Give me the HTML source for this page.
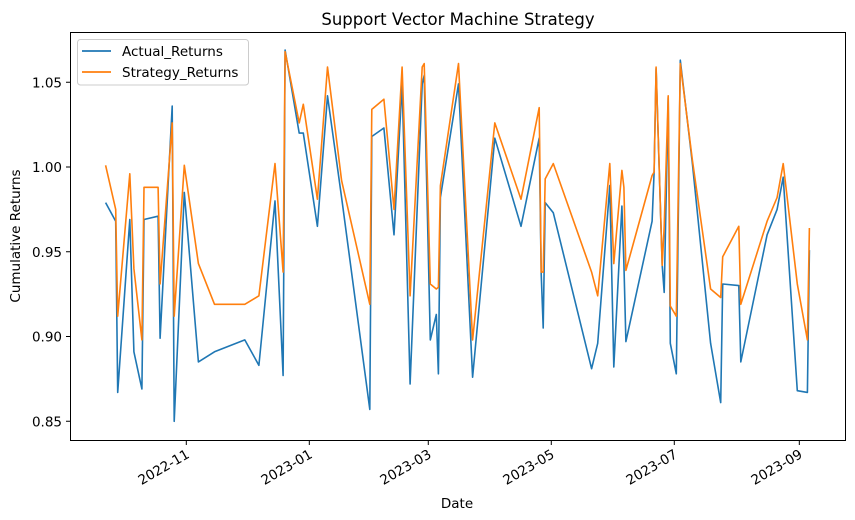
<!DOCTYPE html>
<html><head><meta charset="utf-8"><style>
html,body{margin:0;padding:0;background:#fff;}
svg{display:block;font-family:"DejaVu Sans","Liberation Sans",sans-serif;}
</style></head><body>
<svg id="chart" width="855" height="520" viewBox="0 0 855 520">
<text x="458" y="25" font-size="16.5" text-anchor="middle">Support Vector Machine Strategy</text>
<text x="457" y="508" font-size="13.5" text-anchor="middle">Date</text>
<text transform="translate(20,236) rotate(-90)" font-size="13.5" text-anchor="middle">Cumulative Returns</text>
<g id="axes"></g>
<g id="series"></g>
<rect x="70.5" y="32.5" width="775" height="408" fill="none" stroke="#000" stroke-width="1"/>
<g>
<rect x="77.5" y="39.5" width="171" height="45.5" rx="3" fill="#fff" fill-opacity="0.8" stroke="#ccc"/>
<line x1="82" y1="51" x2="111" y2="51" stroke="#1f77b4" stroke-width="1.8"/>
<text x="122" y="56" font-size="13.5">Actual_Returns</text>
<line x1="82" y1="72" x2="111" y2="72" stroke="#ff7f0e" stroke-width="1.8"/>
<text x="122" y="77" font-size="13.5">Strategy_Returns</text>
</g>
</svg>
<script>
const dates = ["2022-09-22","2022-09-27","2022-09-28","2022-10-04","2022-10-06","2022-10-10","2022-10-11","2022-10-18","2022-10-19","2022-10-25","2022-10-26","2022-10-31","2022-11-07","2022-11-15","2022-11-30","2022-12-07","2022-12-15","2022-12-19","2022-12-20","2022-12-27","2022-12-29","2023-01-05","2023-01-10","2023-01-17","2023-01-31","2023-02-01","2023-02-07","2023-02-12","2023-02-16","2023-02-20","2023-02-26","2023-02-27","2023-03-02","2023-03-05","2023-03-06","2023-03-07","2023-03-16","2023-03-23","2023-04-03","2023-04-16","2023-04-25","2023-04-26","2023-04-27","2023-04-28","2023-05-02","2023-05-21","2023-05-24","2023-05-30","2023-06-01","2023-06-05","2023-06-06","2023-06-07","2023-06-20","2023-06-21","2023-06-22","2023-06-25","2023-06-26","2023-06-28","2023-06-29","2023-07-02","2023-07-04","2023-07-10","2023-07-19","2023-07-24","2023-07-25","2023-08-02","2023-08-03","2023-08-16","2023-08-21","2023-08-24","2023-08-31","2023-09-05","2023-09-06"];
const actualReturns = [0.979,0.968,0.867,0.969,0.891,0.869,0.969,0.971,0.899,1.036,0.850,0.985,0.885,0.891,0.898,0.883,0.980,0.877,1.069,1.020,1.020,0.965,1.042,0.982,0.857,1.018,1.023,0.960,1.049,0.872,1.049,1.054,0.898,0.913,0.878,0.982,1.049,0.876,1.017,0.965,1.017,0.937,0.905,0.979,0.973,0.881,0.896,0.989,0.882,0.977,0.943,0.897,0.968,0.997,1.058,0.942,0.926,1.041,0.896,0.878,1.063,1.002,0.896,0.861,0.931,0.930,0.885,0.960,0.975,0.994,0.868,0.867,0.951];
const strategyReturns = [1.001,0.975,0.912,0.996,0.940,0.898,0.988,0.988,0.931,1.026,0.912,1.001,0.943,0.919,0.919,0.924,1.002,0.938,1.068,1.026,1.037,0.981,1.059,0.992,0.919,1.034,1.040,0.975,1.059,0.924,1.059,1.061,0.931,0.928,0.929,0.989,1.061,0.898,1.026,0.981,1.035,0.938,0.938,0.993,1.002,0.938,0.924,1.002,0.943,0.998,0.988,0.939,0.995,0.997,1.059,0.942,0.965,1.042,0.918,0.912,1.061,1.004,0.928,0.923,0.947,0.965,0.919,0.968,0.982,1.002,0.931,0.898,0.964];
const yTicks = [0.85,0.90,0.95,1.00,1.05];
const yTickLabels = ["0.85","0.90","0.95","1.00","1.05"];
const xTicks = ["2022-11-01","2023-01-01","2023-03-01","2023-05-01","2023-07-01","2023-09-01"];
const xTickLabels = ["2022-11","2023-01","2023-03","2023-05","2023-07","2023-09"];

const NS = "http://www.w3.org/2000/svg";
const X0 = Date.UTC(2022,10,1);
function xs(d){ const t = Date.parse(d+"T00:00:00Z"); return 186.3 + (t - X0)/86400000*2.0165; }
function ys(v){ return 167 - (v-1)*1695; }
const axes = document.getElementById("axes");
const series = document.getElementById("series");
function mk(tag, attrs, parent){ const e=document.createElementNS(NS,tag); for(const k in attrs) e.setAttribute(k,attrs[k]); parent.appendChild(e); return e; }

yTicks.forEach((v,i)=>{
  const y = ys(v);
  const t = mk("line",{x1:66,x2:70.5,y1:y,y2:y,stroke:"#000","stroke-width":1},axes);
  
  
  const l = mk("text",{x:62,y:y+5,"font-size":13.5,"text-anchor":"end"},axes);
  l.textContent = yTickLabels[i];
  
  
});
xTicks.forEach((d,i)=>{
  const x = xs(d);
  const t = mk("line",{x1:x,x2:x,y1:440.5,y2:445,stroke:"#000","stroke-width":1},axes);
  
  
  const l = mk("text",{transform:`translate(${x+4},${457}) rotate(-30)`,"font-size":13.5,"text-anchor":"end"},axes);
  l.textContent = xTickLabels[i];
  
  
});
function drawLine(vals, color, name){
  const pts = dates.map((d,i)=>xs(d).toFixed(1)+","+ys(vals[i]).toFixed(1)).join(" ");
  const p = mk("polyline",{points:pts,fill:"none",stroke:color,"stroke-width":1.6,"stroke-linejoin":"round"},series);
  
  
}
drawLine(actualReturns,"#1f77b4","actual-returns-line");
drawLine(strategyReturns,"#ff7f0e","strategy-returns-line");
</script>
</body></html>
